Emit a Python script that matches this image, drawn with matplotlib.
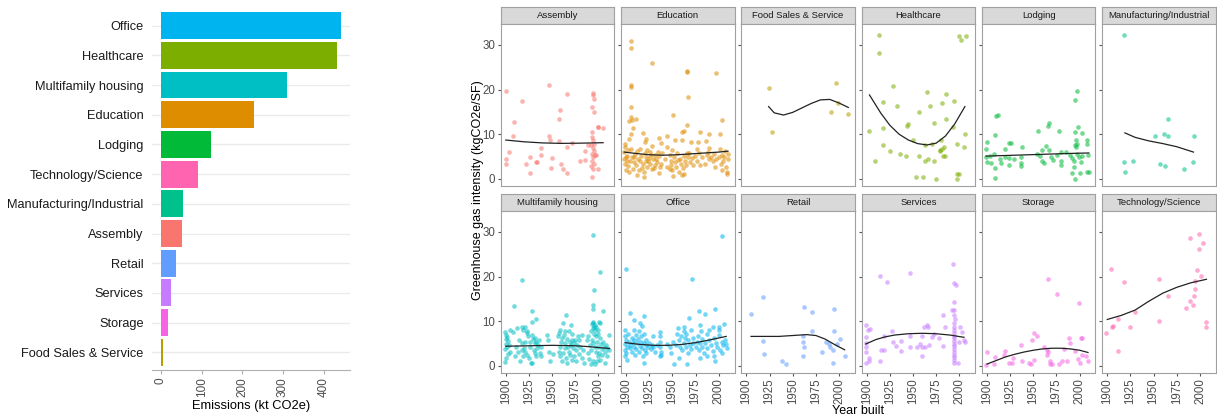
import numpy as np
import matplotlib
matplotlib.use('Agg')
from matplotlib import pyplot as plt

plt.rcParams['font.family'] = ['Liberation Sans', 'DejaVu Sans']

# %% bar chart data (top to bottom)
sectors = ['Office', 'Healthcare', 'Multifamily housing', 'Education', 'Lodging',
           'Technology/Science', 'Manufacturing/Industrial', 'Assembly', 'Retail',
           'Services', 'Storage', 'Food Sales & Service']
emissions = [443, 433, 311, 229, 123, 91, 54, 51, 37, 25, 17, 4]

# %% facet data: (year built, kgCO2e/SF)
assembly_pts = [(1900, 19.7), (1917, 17.4), (1909, 12.7), (1908, 9.5), (1903, 6.0), (1900, 4.4), (1900, 3.3),
                (1922, 3.4), (1926, 5.0), (1926, 1.4), (1933, 3.8), (1934, 3.8), (1938, 7.0), (1938, 5.4),
                (1947, 21.0), (1947, 9.5), (1948, 8.7), (1950, 4.7), (1949, 2.4), (1957, 13.4), (1959, 15.5),
                (1957, 8.5), (1960, 3.3), (1962, 2.3), (1966, 19.0), (1966, 1.4), (1966, 7.2), (1971, 8.1),
                (1980, 3.9), (1985, 4.3), (1985, 6.3), (1989, 7.6), (1994, 19.3), (1994, 18.8), (1995, 17.8),
                (1993, 16.2), (1995, 14.9), (1993, 10.4), (1993, 9.3), (1994, 8.6), (1995, 7.8), (1992, 7.5),
                (1994, 6.9), (1995, 6.3), (1993, 5.6), (1996, 5.4), (1994, 4.9), (1993, 4.1), (1995, 3.4),
                (1992, 2.8), (1994, 2.2), (1993, 0.5), (1997, 5.4), (1999, 11.7), (2000, 11.7), (2005, 11.3),
                (2000, 2.1)]
assembly_fit = [(1900, 8.7), (1920, 8.3), (1940, 8.05), (1960, 7.95), (1980, 8.0), (2005, 8.1)]

education_pts = [(1905, 30.8), (1905, 29.3), (1928, 26.0), (1966, 24.2), (1966, 23.9), (1997, 23.8), (1967, 18.4),
                 (1905, 21.1), (1905, 20.5), (1905, 16.1), (1951, 14.3), (1905, 13.8), (1906, 13.1), (1903, 12.9),
                 (1911, 13.4), (2004, 13.3), (1966, 12.1), (1907, 11.3), (1962, 10.8), (1960, 10.6), (1980, 10.4),
                 (1990, 10.1), (1905, 10.1), (1918, 10.2), (1944, 9.5), (2001, 10.0), (1936, 9.1), (1922, 9.0),
                 (1903, 9.0), (1953, 8.8), (1960, 8.8), (1920, 8.2), (1938, 8.1), (1899, 7.7), (1899, 7.1),
                 (1970, 8.2), (1978, 8.2), (1986, 8.4), (1928, 7.3), (1944, 7.2), (1915, 6.7), (1976, 6.7),
                 (1990, 6.9), (2001, 6.7), (1898, 6.0), (1901, 5.2), (1898, 4.5), (1901, 4.1), (1899, 3.4),
                 (1902, 2.8), (1900, 1.9), (1903, 1.5), (1906, 4.9), (1908, 3.7), (1910, 5.6), (1911, 3.0),
                 (1913, 4.5), (1914, 1.9), (1916, 5.2), (1918, 3.4), (1919, 0.4), (1919, 1.5), (1921, 4.9),
                 (1923, 2.6), (1924, 4.1), (1926, 6.0), (1926, 3.4), (1928, 2.2), (1929, 4.5), (1931, 5.4),
                 (1931, 3.0), (1933, 3.7), (1935, 1.3), (1936, 5.2), (1938, 3.4), (1947, 5.4), (1948, 4.1),
                 (1949, 3.0), (1950, 1.9), (1951, 0.7), (1952, 4.9), (1953, 3.7), (1954, 2.6), (1955, 5.7),
                 (1957, 1.5), (1958, 4.5), (1959, 3.4), (1961, 2.5), (1962, 5.2), (1964, 4.1), (1965, 3.0),
                 (1967, 4.9), (1968, 5.7), (1969, 3.7), (1971, 4.7), (1974, 5.2), (1977, 4.1), (1979, 5.7),
                 (1982, 4.9), (1985, 3.4), (1987, 5.4), (1990, 4.5), (1992, 4.9), (1994, 4.1), (1996, 2.6),
                 (1997, 4.5), (2000, 5.0), (2002, 3.4), (2003, 5.4), (2005, 4.1), (2006, 5.0), (2008, 2.6),
                 (2009, 1.5), (2009, 1.0), (2007, 6.3), (2010, 5.6), (1944, 2.6), (1942, 4.5), (1902, 6.5),
                 (1904, 3.9), (1907, 2.3), (1909, 4.8), (1912, 6.2), (1915, 3.9), (1917, 2.4), (1920, 5.8),
                 (1922, 3.9), (1925, 4.6), (1927, 5.3), (1930, 2.4), (1932, 4.4), (1934, 6.1), (1937, 2.7),
                 (1947, 2.2), (1950, 6.4), (1956, 4.2), (1963, 1.2), (1966, 5.8), (1972, 3.1), (1980, 3.0),
                 (1988, 6.1), (1995, 5.6), (2004, 2.0), (2010, 4.4), (1900, 5.0), (1905, 6.8), (1923, 6.5),
                 (1960, 0.9), (1939, 5.8), (1912, 0.8)]
education_fit = [(1898, 6.0), (1910, 5.7), (1925, 5.4), (1940, 5.3), (1955, 5.4), (1970, 5.6), (1985, 5.8),
                 (2000, 6.0), (2010, 6.2)]

food_pts = [(1924, 20.4), (1928, 10.6), (1991, 14.9), (1997, 21.5), (1999, 17.0), (2010, 14.5)]
food_fit = [(1924, 16.2), (1930, 14.8), (1940, 14.3), (1950, 14.9), (1960, 15.9), (1970, 16.9), (1980, 17.7),
            (1990, 17.8), (2000, 17.0), (2010, 16.0)]

healthcare_pts = [(1913, 32.2), (1913, 28.1), (2000, 31.9), (2002, 31.1), (2007, 31.9), (1928, 20.7), (1965, 19.4),
                  (1986, 19.0), (1918, 17.2), (1933, 16.4), (1981, 17.1), (1994, 17.5), (1968, 16.4), (1956, 15.0),
                  (1986, 13.5), (1945, 12.3), (1944, 11.9), (1973, 12.5), (1918, 11.3), (1903, 10.7), (1993, 11.6),
                  (2006, 10.1), (1950, 8.7), (1971, 7.7), (1980, 8.7), (1918, 7.6), (1925, 6.3), (1936, 5.6),
                  (1942, 5.1), (1963, 7.6), (1998, 7.8), (2005, 7.2), (1979, 6.5), (1981, 6.7), (1979, 6.2),
                  (1983, 7.1), (1982, 5.2), (1985, 5.2), (1956, 5.1), (1966, 4.5), (1963, 4.1), (1973, 4.0),
                  (1909, 3.9), (1953, 0.4), (1961, 0.5), (1975, 0.0), (1997, 1.0), (2000, 1.0), (1997, 0.0)]
healthcare_fit = [(1903, 18.8), (1915, 14.8), (1925, 12.0), (1935, 10.0), (1945, 8.7), (1955, 7.9), (1965, 7.6),
                  (1975, 8.0), (1985, 9.6), (1995, 12.3), (2006, 16.2)]

lodging_pts = [(1997, 19.6), (1995, 17.7), (1912, 14.4), (1910, 14.0), (1967, 12.5), (1966, 11.9), (1955, 10.8),
               (1978, 10.8), (1909, 9.9), (1998, 11.6), (1995, 10.4), (2002, 10.2), (1900, 8.2), (1924, 8.0),
               (1926, 8.0), (1938, 7.2), (1964, 7.4), (1899, 6.7), (1919, 6.7), (1959, 6.5), (1967, 6.5),
               (1996, 8.6), (1997, 7.8), (1995, 7.5), (1996, 7.1), (2008, 8.7), (2008, 7.7), (1908, 5.6),
               (1903, 5.2), (1899, 4.9), (1914, 4.5), (1919, 4.9), (1924, 4.6), (1929, 4.5), (1937, 4.9),
               (1937, 3.5), (1937, 2.8), (1924, 3.0), (1915, 3.5), (1904, 3.5), (1900, 3.7), (1909, 2.5),
               (1909, 0.2), (1954, 5.6), (1957, 5.2), (1959, 4.1), (1962, 3.5), (1969, 5.0), (1971, 4.3),
               (1976, 5.4), (1980, 6.0), (1980, 4.1), (1980, 3.2), (1985, 6.0), (1990, 5.4), (1992, 4.7),
               (1994, 4.0), (1997, 5.6), (1999, 4.9), (2002, 5.2), (2001, 3.7), (1994, 2.6), (1992, 1.3),
               (1995, 0.0), (2000, 1.3), (2008, 1.6), (2010, 1.5), (2009, 5.4)]
lodging_fit = [(1899, 5.1), (1930, 5.3), (1960, 5.5), (1990, 5.7), (2010, 5.8)]

manufacturing_pts = [(1918, 32.2), (1966, 13.4), (1952, 9.7), (1961, 10.0), (1966, 9.5), (1994, 9.7), (1918, 3.8),
                     (1928, 4.0), (1919, 1.6), (1957, 3.4), (1962, 2.8), (1983, 2.1), (1992, 3.7)]
manufacturing_fit = [(1919, 10.3), (1930, 9.3), (1945, 8.5), (1960, 7.9), (1975, 7.2), (1993, 6.0)]

multifamily_pts = [(1994, 29.4), (2002, 21.0), (1995, 17.0), (1918, 19.3), (1909, 13.5), (1994, 13.7), (1994, 12.7),
                   (2005, 12.4), (1928, 12.2), (1933, 10.6), (1928, 9.9), (1965, 11.5), (1970, 9.1), (1968, 7.9),
                   (1962, 9.6), (2001, 9.9), (1994, 9.6), (1995, 8.8), (1996, 8.1), (1899, 7.5), (1900, 7.0),
                   (1901, 6.5), (1900, 6.0), (1902, 5.5), (1900, 5.0), (1903, 4.6), (1901, 4.2), (1899, 3.8),
                   (1904, 3.2), (1902, 2.6), (1900, 1.8), (1899, 0.8), (1905, 8.1), (1908, 7.5), (1912, 8.4),
                   (1914, 5.8), (1911, 4.3), (1913, 3.2), (1910, 2.1), (1915, 1.0), (1918, 8.7), (1919, 8.1),
                   (1921, 8.7), (1923, 7.3), (1924, 6.6), (1926, 5.4), (1928, 6.9), (1929, 6.0), (1931, 5.1),
                   (1932, 6.2), (1933, 5.4), (1935, 4.7), (1936, 5.7), (1938, 4.3), (1918, 5.1), (1920, 4.0),
                   (1921, 3.2), (1923, 2.5), (1925, 1.7), (1927, 0.6), (1919, 2.1), (1917, 3.6), (1930, 3.6),
                   (1931, 2.8), (1933, 2.1), (1928, 0.7), (1937, 2.8), (1938, 2.1), (1923, 7.7), (1926, 4.3),
                   (1921, 5.4), (1934, 4.0), (1944, 6.9), (1946, 5.7), (1947, 3.0), (1948, 1.0), (1951, 2.7),
                   (1956, 6.6), (1957, 7.3), (1959, 8.1), (1960, 5.4), (1961, 6.2), (1963, 6.9), (1964, 5.1),
                   (1966, 6.0), (1967, 4.3), (1969, 5.4), (1970, 4.7), (1971, 5.8), (1973, 4.0), (1974, 5.1),
                   (1976, 3.6), (1977, 4.7), (1979, 5.8), (1980, 4.3), (1982, 6.9), (1983, 3.6), (1957, 3.2),
                   (1959, 2.1), (1961, 1.0), (1962, 2.8), (1965, 1.7), (1966, 0.6), (1969, 2.5), (1971, 1.3),
                   (1974, 2.1), (1976, 1.0), (1979, 2.7), (1982, 1.7), (1984, 0.6), (1964, 7.7), (1971, 7.2),
                   (1959, 4.3), (1964, 4.0), (1968, 3.2), (1975, 5.7), (1978, 6.7), (1988, 5.7), (1989, 6.6),
                   (1991, 4.7), (1992, 7.7), (1992, 3.6), (1993, 5.8), (1994, 8.4), (1994, 5.1), (1995, 7.2),
                   (1996, 4.3), (1997, 6.6), (1997, 3.2), (1998, 5.4), (1999, 2.1), (1999, 8.1), (2000, 4.2),
                   (2001, 2.8), (2002, 6.2), (2002, 1.3), (2003, 4.9), (2004, 3.7), (2004, 2.5), (2005, 5.4),
                   (2006, 4.3), (2007, 0.6), (2007, 3.2), (2008, 4.7), (2009, 2.1), (2009, 3.9), (2011, 6.9),
                   (2011, 3.6), (1990, 1.5), (1992, 0.4), (1994, 1.0), (1996, 0.4), (1998, 1.0), (1989, 2.8),
                   (1994, 9.9), (1996, 9.2), (1993, 9.4), (1997, 8.8), (2000, 7.2), (2002, 9.6)]
multifamily_fit = [(1900, 4.4), (1925, 4.5), (1950, 4.6), (1975, 4.5), (1990, 4.3), (2000, 4.1), (2012, 3.9)]

office_pts = [(2004, 29.2), (1900, 21.6), (1971, 19.5), (1904, 11.9), (1909, 10.3), (1919, 11.2), (1915, 9.6),
              (1917, 9.0), (1996, 12.8), (1979, 12.4), (1985, 11.7), (1968, 10.7), (2006, 9.4), (2000, 8.7),
              (1994, 8.8), (1956, 8.4), (1962, 8.8), (1952, 0.4), (1966, 0.4), (1919, 0.6), (1901, 1.3),
              (1937, 2.1), (1957, 1.7), (1987, 2.1), (1996, 1.0), (1899, 8.1), (1899, 6.7), (1900, 5.8),
              (1899, 4.9), (1901, 4.3), (1899, 3.6), (1900, 2.8), (1899, 2.1), (1902, 7.2), (1903, 5.4),
              (1904, 4.0), (1904, 4.7), (1906, 6.2), (1906, 3.2), (1907, 5.1), (1908, 8.1), (1909, 4.3),
              (1909, 5.7), (1910, 2.5), (1911, 6.9), (1911, 3.7), (1912, 5.1), (1913, 6.0), (1914, 7.7),
              (1914, 3.0), (1915, 4.5), (1916, 5.4), (1916, 6.6), (1917, 4.0), (1918, 2.1), (1919, 5.2),
              (1919, 7.2), (1920, 3.6), (1921, 4.7), (1922, 5.7), (1922, 2.8), (1924, 4.3), (1925, 5.2),
              (1927, 3.7), (1928, 4.7), (1929, 6.6), (1929, 4.2), (1931, 3.2), (1933, 4.7), (1937, 7.5),
              (1937, 6.6), (1937, 5.4), (1937, 4.3), (1938, 3.0), (1938, 2.5), (1944, 4.9), (1947, 4.3),
              (1948, 2.8), (1951, 5.4), (1954, 4.7), (1955, 7.2), (1957, 5.8), (1958, 4.3), (1959, 6.6),
              (1960, 3.6), (1962, 7.9), (1962, 5.2), (1964, 6.2), (1965, 4.3), (1965, 7.2), (1967, 2.8),
              (1967, 5.7), (1969, 4.7), (1970, 8.1), (1970, 3.7), (1972, 6.2), (1972, 5.1), (1975, 4.2),
              (1977, 5.4), (1978, 6.6), (1979, 3.6), (1980, 9.2), (1980, 5.1), (1981, 7.7), (1982, 4.3),
              (1982, 6.0), (1984, 2.8), (1985, 5.2), (1987, 7.2), (1987, 4.0), (1989, 5.7), (1990, 8.1),
              (1992, 4.7), (1994, 3.4), (1995, 6.2), (1995, 2.1), (1997, 5.2), (1998, 4.3), (2000, 6.9),
              (2001, 3.6), (2003, 5.4), (2004, 2.8), (2005, 4.7), (2007, 5.8), (2008, 4.9), (2009, 4.0),
              (2000, 8.1), (1980, 1.7)]
office_fit = [(1899, 5.2), (1915, 4.8), (1930, 4.6), (1945, 4.6), (1960, 4.8), (1975, 5.2), (1990, 5.8),
              (2008, 6.6)]

retail_pts = [(1905, 11.6), (1918, 15.5), (1918, 5.6), (1919, 2.6), (1938, 1.1), (1943, 0.4), (1962, 13.1),
              (1961, 6.6), (1961, 5.4), (1962, 4.3), (1961, 2.1), (1971, 12.1), (1971, 7.8), (1982, 3.2),
              (1986, 5.4), (1989, 4.8), (1990, 4.3), (1995, 12.7), (1995, 7.9), (1993, 0.7), (1993, 3.6),
              (1998, 5.0), (2001, 6.0), (2006, 2.1)]
retail_fit = [(1905, 6.6), (1920, 6.6), (1935, 6.6), (1950, 6.8), (1965, 7.0), (1975, 6.8), (1985, 6.0),
              (1995, 4.8), (2006, 3.6)]

services_pts = [(1993, 22.8), (1947, 20.7), (1914, 20.2), (1922, 18.7), (1994, 18.5), (1996, 18.1), (1994, 14.4),
                (1994, 12.5), (1992, 12.5), (1994, 11.4), (1995, 10.4), (1994, 9.6), (1982, 11.4), (1985, 8.7),
                (1994, 8.8), (1994, 8.0), (1994, 7.4), (1994, 6.8), (1994, 6.2), (1994, 5.6), (1994, 5.0),
                (1994, 4.4), (1994, 3.8), (1994, 3.2), (1994, 2.5), (1994, 1.9), (1994, 1.3), (1994, 0.7),
                (1899, 9.2), (1901, 8.1), (1904, 8.3), (1899, 6.4), (1899, 5.1), (1899, 4.3), (1899, 3.0),
                (1899, 0.6), (1903, 1.7), (1903, 1.0), (1919, 6.7), (1915, 3.6), (1919, 3.6), (1914, 1.0),
                (1927, 7.8), (1928, 5.4), (1932, 4.5), (1937, 5.6), (1937, 3.4), (1947, 6.7), (1947, 4.3),
                (1960, 6.6), (1954, 4.3), (1957, 4.9), (1960, 4.2), (1963, 4.3), (1967, 4.7), (1962, 8.8),
                (1965, 9.1), (1966, 8.7), (1960, 2.1), (1970, 6.4), (1973, 7.2), (1978, 6.2), (1982, 4.5),
                (2001, 8.7), (2003, 7.5), (2000, 5.4), (2005, 5.7), (2006, 5.4), (1999, 0.7)]
services_fit = [(1899, 4.9), (1910, 5.9), (1920, 6.5), (1930, 6.9), (1945, 7.2), (1960, 7.3), (1975, 7.2),
                (1990, 6.9), (2005, 6.4)]

storage_pts = [(1966, 19.4), (1976, 16.2), (1999, 14.1), (1951, 7.4), (1954, 6.6), (1949, 5.8), (1937, 4.7),
               (1962, 4.3), (1965, 3.6), (1966, 3.0), (1965, 2.5), (1988, 6.2), (1990, 5.1), (2001, 6.2),
               (2003, 6.2), (1983, 3.7), (1995, 3.4), (2002, 2.5), (2007, 2.1), (2009, 1.2), (1998, 1.5),
               (2000, 0.6), (1919, 3.4), (1918, 2.5), (1927, 0.6), (1924, 0.6), (1928, 1.7), (1909, 1.9),
               (1908, 0.4), (1900, 3.0), (1899, 0.2), (1938, 1.0), (1945, 0.6), (1947, 0.4), (1951, 1.3),
               (1968, 1.0), (1968, 0.4), (1970, 0.4), (1978, 0.4), (1981, 1.0), (1986, 1.2)]
storage_fit = [(1900, 0.4), (1910, 1.2), (1920, 2.0), (1930, 2.6), (1940, 3.1), (1950, 3.5), (1960, 3.8),
               (1970, 3.95), (1980, 3.95), (1990, 3.8), (2000, 3.5), (2009, 3.0)]

tech_pts = [(1904, 21.7), (1899, 7.3), (1905, 8.6), (1906, 8.9), (1912, 10.6), (1912, 3.3), (1918, 18.8),
            (1924, 8.8), (1930, 12.1), (1956, 19.5), (1956, 10.1), (1966, 15.7), (1985, 13.0), (1989, 14.6),
            (1992, 13.6), (1994, 15.7), (1989, 28.7), (1999, 29.6), (2003, 27.6), (1999, 26.2), (1997, 21.4),
            (2001, 20.1), (1995, 19.1), (1995, 17.3), (2007, 9.8), (2006, 8.8)]
tech_fit = [(1900, 10.4), (1915, 11.3), (1930, 12.5), (1945, 14.5), (1960, 16.3), (1975, 17.6), (1990, 18.6),
            (2007, 19.4)]

colors = ['#F8766D', '#DE8C00', '#B79F00', '#7CAE00', '#00BA38', '#00C08B',
          '#00BFC4', '#00B4F0', '#619CFF', '#C77CFF', '#F564E3', '#FF64B0']
facet_names = ['Assembly', 'Education', 'Food Sales & Service', 'Healthcare', 'Lodging',
               'Manufacturing/Industrial', 'Multifamily housing', 'Office', 'Retail', 'Services',
               'Storage', 'Technology/Science']
facets = [(assembly_pts, assembly_fit), (education_pts, education_fit), (food_pts, food_fit),
          (healthcare_pts, healthcare_fit), (lodging_pts, lodging_fit),
          (manufacturing_pts, manufacturing_fit), (multifamily_pts, multifamily_fit),
          (office_pts, office_fit), (retail_pts, retail_fit), (services_pts, services_fit),
          (storage_pts, storage_fit), (tech_pts, tech_fit)]

W, H = 1217, 419
fig = plt.figure(figsize=(W / 100, H / 100), dpi=100)


def px_axes(left, top, width, height):
    return fig.add_axes([left / W, 1 - (top + height) / H, width / W, height / H])


# %% left: bar chart
color_of = dict(zip(facet_names, colors))
ax = px_axes(152, 8, 198, 362)
ypos = np.arange(len(sectors))[::-1] + 1
for y in ypos:
    ax.axhline(y, color='#EBEBEB', lw=1.0, zorder=0)
ax.barh(ypos, emissions, height=0.9, color=[color_of[s] for s in sectors], zorder=2)
ax.set_ylim(0.4, len(sectors) + 0.6)
ax.set_xlim(-22, 465)
ax.set_yticks(ypos)
ax.set_yticklabels(sectors, fontsize=9.2, color='#1A1A1A')
ax.set_xticks([0, 100, 200, 300, 400])
ax.set_xticklabels(['0', '100', '200', '300', '400'], rotation=90, fontsize=8.5, color='#4D4D4D')
ax.tick_params(axis='y', length=0, pad=6)
ax.tick_params(axis='x', length=3, color='#B0B0B0', pad=2)
for side in ['top', 'right', 'left']:
    ax.spines[side].set_visible(False)
ax.spines['bottom'].set_color('#B0B0B0')
ax.set_xlabel('Emissions (kt CO2e)', fontsize=9.3, labelpad=2)

# %% right: facets
border = '#A0A0A0'
for i, (name, (pts, fit)) in enumerate(zip(facet_names, facets)):
    row, col = divmod(i, 6)
    left = 500.7 + col * 120.3
    strip_top = 7 if row == 0 else 194
    panel_top = strip_top + 17
    sx = px_axes(left, strip_top, 113.5, 17)
    sx.set_facecolor('#D9D9D9')
    sx.set_xticks([])
    sx.set_yticks([])
    for sp in sx.spines.values():
        sp.set_color(border)
    sx.text(0.5, 0.5, name, ha='center', va='center', fontsize=6.8, color='#1A1A1A', transform=sx.transAxes)

    pa = px_axes(left, panel_top, 113.5, 162)
    yrs = [p[0] for p in pts]
    vals = [p[1] for p in pts]
    pa.scatter(yrs, vals, s=11, color=colors[i], alpha=0.55, linewidths=0)
    pa.plot([f[0] for f in fit], [f[1] for f in fit], color='#222222', lw=0.9)
    pa.set_xlim(1894.5, 2017)
    pa.set_ylim(-1.6, 34.7)
    for sp in pa.spines.values():
        sp.set_color(border)
    pa.tick_params(length=2.5, color='#555555', labelsize=8.3, labelcolor='#4D4D4D', pad=1.5)
    pa.set_yticks([0, 10, 20, 30])
    pa.set_xticks([1900, 1925, 1950, 1975, 2000])
    if col == 0:
        pa.set_yticklabels(['0', '10', '20', '30'])
    else:
        pa.set_yticklabels([])
    if row == 1:
        pa.set_xticklabels(['1900', '1925', '1950', '1975', '2000'], rotation=90)
    else:
        pa.tick_params(axis='x', length=0)
        pa.set_xticklabels([])

fig.text(478 / W, 1 - 190 / H, 'Greenhouse gas intensity (kgCO2e/SF)', rotation=90,
         ha='center', va='center', fontsize=9)
fig.text(858 / W, 1 - 411 / H, 'Year built', ha='center', va='center', fontsize=9)

fig.savefig('out.png', dpi=100)
